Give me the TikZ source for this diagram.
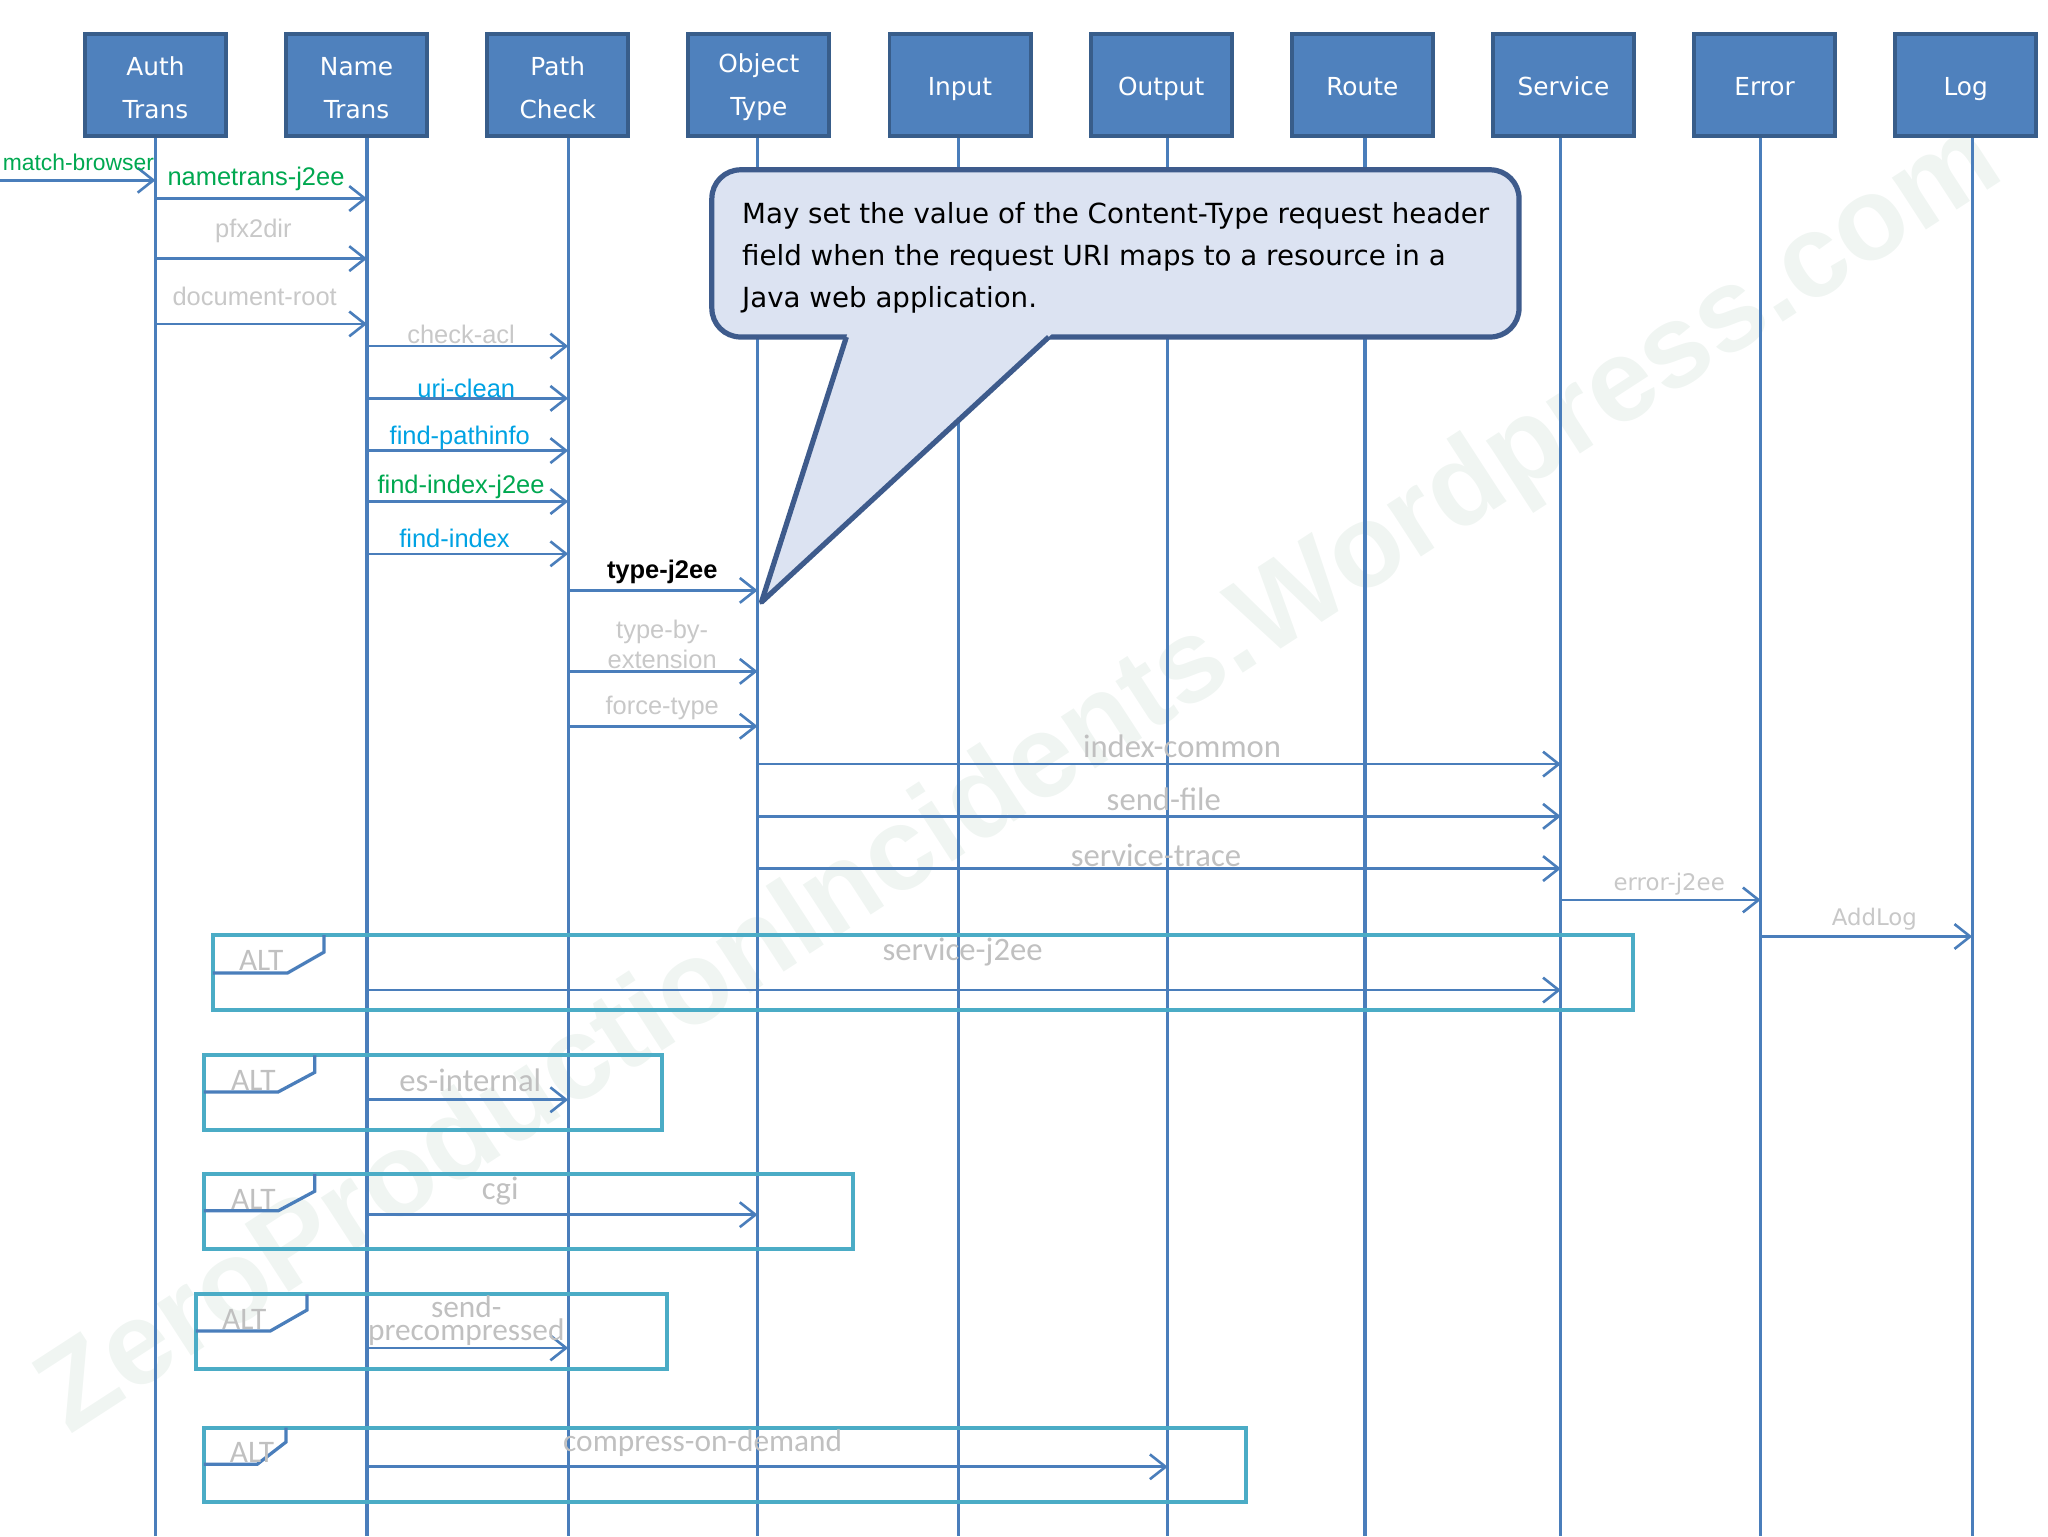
\documentclass[tikz,border=0pt]{standalone}
\usepackage{fontspec}
\setmainfont{Liberation Sans}
\newfontfamily\dvs{DejaVu Sans}
\newfontfamily\lsans{Liberation Sans}
\newfontfamily\calib{Carlito}
\usetikzlibrary{arrows.meta}
\definecolor{hdrfill}{RGB}{79,129,189}
\definecolor{hdrdraw}{RGB}{56,93,138}
\definecolor{lineblue}{RGB}{74,126,187}
\definecolor{altteal}{RGB}{75,172,198}
\definecolor{callfill}{RGB}{220,227,242}
\definecolor{calldraw}{RGB}{62,91,140}
\definecolor{lblgreen}{RGB}{0,168,80}
\definecolor{lblcyan}{RGB}{0,162,227}
\definecolor{lblgray}{RGB}{200,200,200}
\definecolor{lblgrayb}{RGB}{192,192,192}
\definecolor{wmark}{RGB}{240,245,242}
\newcommand{\hstrut}{\rule{0pt}{18.4pt}}
\begin{document}
\begin{tikzpicture}[x=1pt,y=-1pt,
  hdr/.style={draw=hdrdraw, fill=hdrfill, line width=3pt, minimum width=108pt, minimum height=78pt,
    inner sep=0pt, align=center, text=white, font=\dvs\fontsize{19}{33}\selectfont},
  hdrone/.style={hdr, text height=18pt, text depth=2pt},
  hdrtwo/.style={hdr},
  life/.style={draw=lineblue, line width=2.5pt},
  msg/.style={draw=lineblue, line width=2pt, -{Straight Barb[length=12pt,width=19pt]}},
  lbl/.style={inner sep=0pt, font=\lsans\fontsize{19.5}{23}\selectfont},
  lblb/.style={inner sep=0pt, font=\calib\fontsize{25}{19}\selectfont, text=lblgrayb},
  lbld/.style={inner sep=0pt, font=\dvs\fontsize{17.5}{20}\selectfont, text=lblgray},
  altframe/.style={draw=altteal, line width=3pt},
  alttag/.style={draw=lineblue, line width=2.5pt},
  alttext/.style={inner sep=0pt, font=\calib\fontsize{24}{24}\selectfont, text=lblgrayb},
  callout/.style={draw=calldraw, fill=callfill, line width=4pt, line join=round}
]
\useasboundingbox (0,0) rectangle (1568,1176);

% watermark (behind everything)
\node[rotate=33, text=wmark, inner sep=0pt, font=\lsans\bfseries\fontsize{90}{90}\selectfont] (wm) at (782,598) {ZeroProductionIncidents.Wordpress.com};

% lifeline bottoms
\coordinate (authL) at (119,1176);
\coordinate (nameL) at (281,1176);
\coordinate (pathL) at (435,1176);
\coordinate (objL) at (580,1176);
\coordinate (inputL) at (734,1176);
\coordinate (outputL) at (894,1176);
\coordinate (routeL) at (1045,1176);
\coordinate (serviceL) at (1195,1176);
\coordinate (errorL) at (1348,1176);
\coordinate (logL) at (1510,1176);

% headers
\node[hdrtwo] (auth) at (119,65) {\hstrut Auth\\Trans};
\node[hdrtwo] (name) at (273,65) {\hstrut Name\\Trans};
\node[hdrtwo] (path) at (427,65) {\hstrut Path\\Check};
\node[hdrtwo] (obj) at (581,65) {\hstrut Object\\Type};
\node[hdrone] (input) at (735,65) {Input};
\node[hdrone] (output) at (889,65) {Output};
\node[hdrone] (route) at (1043,65) {Route};
\node[hdrone] (service) at (1197,65) {Service};
\node[hdrone] (error) at (1351,65) {Error};
\node[hdrone] (log) at (1505,65) {Log};

% lifelines
\draw[life] (authL |- auth.south) -- (authL);
\draw[life] (nameL |- name.south) -- (nameL);
\draw[life] (pathL |- path.south) -- (pathL);
\draw[life] (objL |- obj.south) -- (objL);
\draw[life] (inputL |- input.south) -- (inputL);
\draw[life] (outputL |- output.south) -- (outputL);
\draw[life] (routeL |- route.south) -- (routeL);
\draw[life] (serviceL |- service.south) -- (serviceL);
\draw[life] (errorL |- error.south) -- (errorL);
\draw[life] (logL |- log.south) -- (logL);

% messages (upper)
\coordinate (mbStart) at (0,138);
\draw[msg] (mbStart) -- (authL |- mbStart) node[lbl, text=lblgreen, font=\lsans\fontsize{17.5}{20}\selectfont] at (60,124) {match-browser};
\draw[msg] (authL |- 0,152) -- (nameL |- 0,152) node[lbl, text=lblgreen] at (196,137) {nametrans-j2ee};
\draw[msg] (authL |- 0,198) -- (nameL |- 0,198) node[lbl, text=lblgray] at (194,177) {pfx2dir};
\draw[msg] (authL |- 0,248) -- (nameL |- 0,248) node[lbl, text=lblgray] at (195,227) {document-root};
\draw[msg] (nameL |- 0,265) -- (pathL |- 0,265) node[lbl, text=lblgray] at (353,256) {check-acl};
\draw[msg] (nameL |- 0,305) -- (pathL |- 0,305) node[lbl, text=lblcyan] at (357,297) {uri-clean};
\draw[msg] (nameL |- 0,345) -- (pathL |- 0,345) node[lbl, text=lblcyan] at (352,335) {find-pathinfo};
\draw[msg] (nameL |- 0,384) -- (pathL |- 0,384) node[lbl, text=lblgreen] at (353,373) {find-index-j2ee};
\draw[msg] (nameL |- 0,424) -- (pathL |- 0,424) node[lbl, text=lblcyan] at (348,412) {find-index};
\draw[msg] (pathL |- 0,452) -- (objL |- 0,452) node[lbl, text=black, font=\lsans\bfseries\fontsize{19.5}{23}\selectfont] at (507,438) {type-j2ee};
\draw[msg] (pathL |- 0,514) -- (objL |- 0,514) node[lbl, text=lblgray, align=center] at (507,493) {type-by-\\extension};
\draw[msg] (pathL |- 0,556) -- (objL |- 0,556) node[lbl, text=lblgray] at (507,542) {force-type};

% messages (middle)
\draw[msg] (objL |- 0,585) -- (serviceL |- 0,585) node[lblb] at (905,571) {index-common};
\draw[msg] (objL |- 0,625) -- (serviceL |- 0,625) node[lblb] at (891,612) {send-file};
\draw[msg] (objL |- 0,665) -- (serviceL |- 0,665) node[lblb] at (885,655) {service-trace};
\draw[msg] (serviceL |- 0,689) -- (errorL |- 0,689) node[lbld] at (1278,677) {error-j2ee};
\draw[msg] (errorL |- 0,717) -- (logL |- 0,717) node[lbld] at (1435,704) {AddLog};

% ALT frames
\draw[altframe] (163,716) rectangle (1250,773);
\draw[alttag] (248,716) -- (248,729) -- (220,745) -- (163,745);
\node[alttext] (alt1) at (200,735) {ALT};
\draw[msg] (nameL |- 0,758) -- (serviceL |- 0,758) node[lblb] at (737,729) {service-j2ee};

\draw[altframe] (156,808) rectangle (507,865);
\draw[alttag] (241,808) -- (241,821) -- (213,836) -- (156,836);
\node[alttext] (alt2) at (194,827) {ALT};
\draw[msg] (nameL |- 0,842) -- (pathL |- 0,842) node[lblb] at (360,827) {es-internal};

\draw[altframe] (156,899) rectangle (653,956);
\draw[alttag] (241,899) -- (241,912) -- (213,927) -- (156,927);
\node[alttext] (alt3) at (194,918) {ALT};
\draw[msg] (nameL |- 0,930) -- (objL |- 0,930) node[lblb] at (383,912) {cgi};

\draw[altframe] (150,991) rectangle (511,1048);
\draw[alttag] (235,991) -- (235,1003) -- (207,1019) -- (150,1019);
\node[alttext] (alt4) at (187,1010) {ALT};
\draw[msg] (nameL |- 0,1032) -- (pathL |- 0,1032) node[lblb, align=center, font=\calib\fontsize{24}{18}\selectfont] at (357,1011) {send-\\precompressed};

\draw[altframe] (156,1093) rectangle (954,1150);
\draw[alttag] (219,1093) -- (219,1104) -- (197,1121) -- (156,1121);
\node[alttext] (alt5) at (193,1112) {ALT};
\draw[msg] (nameL |- 0,1123) -- (outputL |- 0,1123) node[lblb, font=\calib\fontsize{24}{24}\selectfont] at (538,1105) {compress-on-demand};

% callout
\draw[callout, rounded corners=22pt] (545,130) rectangle (1163,258);
\fill[callfill] (649,255) -- (583,461) -- (806,255) -- cycle;
\draw[draw=calldraw, line width=4pt, line join=round] (648,258) -- (583,461) -- (803,258);
\node[anchor=north west, inner sep=0pt, align=left, font=\dvs\fontsize{21.2}{32}\selectfont] (note) at (568,155)
  {May set the value of the Content-Type request header\\field when the request URI maps to a resource in a\\Java web application.};
\end{tikzpicture}
\end{document}
